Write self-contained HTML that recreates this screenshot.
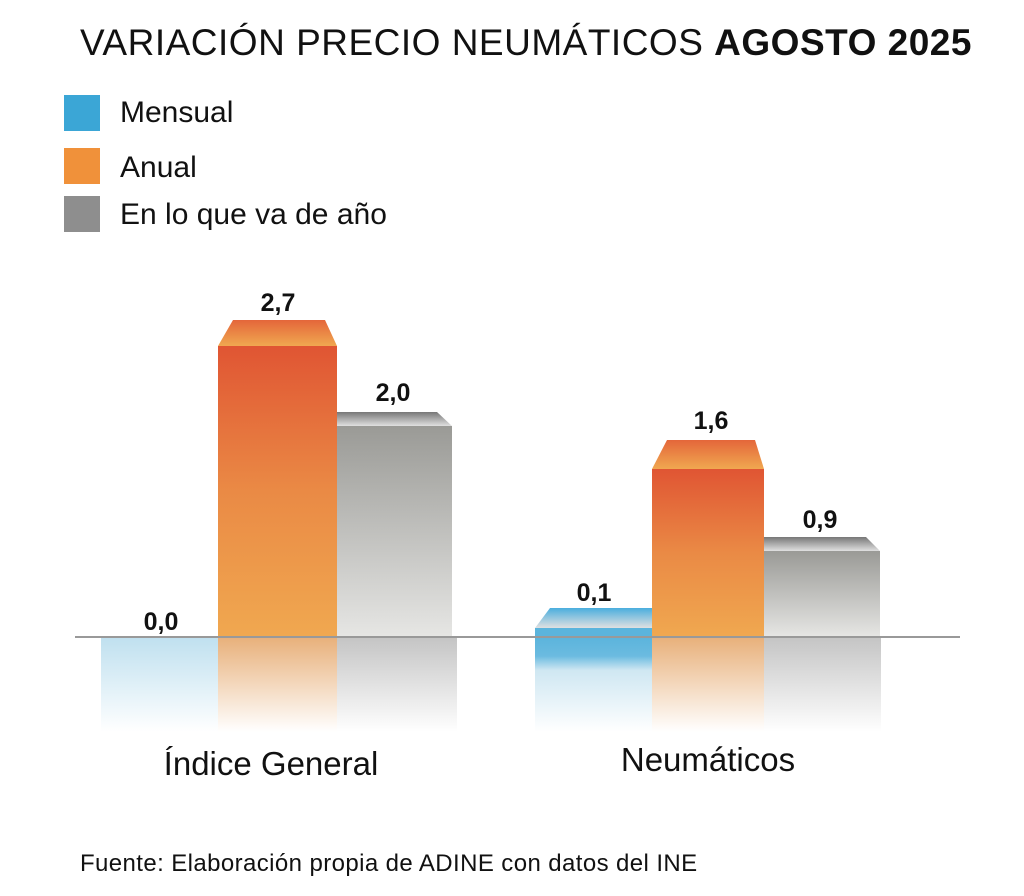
<!DOCTYPE html>
<html><head><meta charset="utf-8"><style>
body{margin:0;width:1024px;height:896px;background:#fff;font-family:"Liberation Sans",sans-serif;position:relative;overflow:hidden}
.t{position:absolute;white-space:nowrap;color:#111}
</style></head><body>
<div class="t" style="left:80px;top:22px;font-size:37px;letter-spacing:0.5px">VARIACIÓN PRECIO NEUMÁTICOS <b>AGOSTO 2025</b></div>
<div style="position:absolute;left:64px;top:95px;width:36px;height:36px;background:#3ba6d6"></div>
<div style="position:absolute;left:64px;top:148px;width:36px;height:36px;background:#f0913a"></div>
<div style="position:absolute;left:64px;top:196px;width:36px;height:36px;background:#8e8e8e"></div>
<div class="t" style="left:120px;top:96px;font-size:30px">Mensual</div>
<div class="t" style="left:120px;top:151px;font-size:30px">Anual</div>
<div class="t" style="left:120px;top:198px;font-size:30px">En lo que va de año</div>
<svg style="position:absolute;left:0;top:0" width="1024" height="896">
<defs>
<linearGradient id="o" x1="0" y1="0" x2="0" y2="1"><stop offset="0" stop-color="#e05533"/><stop offset="0.5" stop-color="#ea8a45"/><stop offset="1" stop-color="#f0a850"/></linearGradient>
<linearGradient id="oc" x1="0" y1="0" x2="0" y2="1"><stop offset="0" stop-color="#e4663a"/><stop offset="1" stop-color="#f0a850"/></linearGradient>
<linearGradient id="g" x1="0" y1="0" x2="0" y2="1"><stop offset="0" stop-color="#9a9a96"/><stop offset="1" stop-color="#e6e6e4"/></linearGradient>
<linearGradient id="gc" x1="0" y1="0" x2="0" y2="1"><stop offset="0" stop-color="#777"/><stop offset="1" stop-color="#e0e0e0"/></linearGradient>
<linearGradient id="bc" x1="0" y1="0" x2="0" y2="1"><stop offset="0" stop-color="#4aaede"/><stop offset="1" stop-color="#e0e0e0"/></linearGradient>
<linearGradient id="rb" x1="0" y1="0" x2="0" y2="1"><stop offset="0" stop-color="#bfe0ef"/><stop offset="1" stop-color="#fff"/></linearGradient>
<linearGradient id="rb2" x1="0" y1="0" x2="0" y2="1"><stop offset="0" stop-color="#5bb4dc"/><stop offset="0.2" stop-color="#6bbbe0"/><stop offset="0.35" stop-color="#cfe7f2"/><stop offset="1" stop-color="#fff"/></linearGradient>
<linearGradient id="ro" x1="0" y1="0" x2="0" y2="1"><stop offset="0" stop-color="#e8b07a"/><stop offset="1" stop-color="#fff"/></linearGradient>
<linearGradient id="rg" x1="0" y1="0" x2="0" y2="1"><stop offset="0" stop-color="#c4c4c4"/><stop offset="1" stop-color="#fff"/></linearGradient>
</defs>
<rect x="101" y="637" width="117" height="95" fill="url(#rb)"/>
<rect x="218" y="637" width="119" height="95" fill="url(#ro)"/>
<rect x="337" y="637" width="120" height="95" fill="url(#rg)"/>
<rect x="535" y="637" width="117" height="95" fill="url(#rb2)"/>
<rect x="652" y="637" width="112" height="95" fill="url(#ro)"/>
<rect x="764" y="637" width="117" height="95" fill="url(#rg)"/>
<polygon points="233,320 325,320 337,346 218,346" fill="url(#oc)"/>
<rect x="218" y="346" width="119" height="291" fill="url(#o)"/>
<polygon points="337,412 437,412 452,426 337,426" fill="url(#gc)"/>
<rect x="337" y="426" width="115" height="211" fill="url(#g)"/>
<polygon points="550,608 652,608 652,628 535,628" fill="url(#bc)"/>
<rect x="535" y="628" width="117" height="9" fill="#5bb4dc"/>
<polygon points="667,440 755,440 764,469 652,469" fill="url(#oc)"/>
<rect x="652" y="469" width="112" height="168" fill="url(#o)"/>
<polygon points="764,537 866,537 880,551 764,551" fill="url(#gc)"/>
<rect x="764" y="551" width="116" height="86" fill="url(#g)"/>
<line x1="75" y1="637" x2="960" y2="637" stroke="#999" stroke-width="2"/>
<g font-family="Liberation Sans, sans-serif" font-weight="bold" font-size="25" text-anchor="middle" fill="#111">
<text x="278" y="311">2,7</text><text x="393" y="401">2,0</text><text x="161" y="630">0,0</text>
<text x="594" y="601">0,1</text><text x="711" y="429">1,6</text><text x="820" y="528">0,9</text>
</g>
<g font-family="Liberation Sans, sans-serif" font-size="33" text-anchor="middle" fill="#111">
<text x="271" y="775">Índice General</text><text x="708" y="771">Neumáticos</text>
</g>
<text x="80" y="871" font-family="Liberation Sans, sans-serif" font-size="24" letter-spacing="0.4" fill="#111">Fuente: Elaboración propia de ADINE con datos del INE</text>
</svg>
</body></html>
